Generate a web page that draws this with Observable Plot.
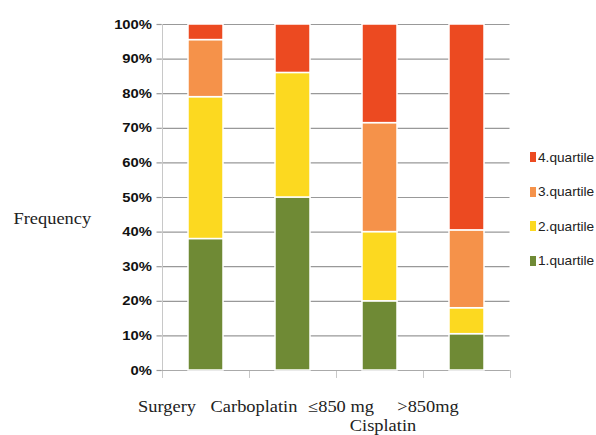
<!DOCTYPE html>
<html>
<head>
<meta charset="utf-8">
<script src="https://cdn.jsdelivr.net/npm/d3@7"></script>
<script src="https://cdn.jsdelivr.net/npm/@observablehq/plot@0.6"></script>
<style>
  html, body { margin: 0; padding: 0; background: #fff; }
  #wrap { position: relative; width: 596px; height: 435px; overflow: hidden; }
  #legend { position: absolute; left: 530px; top: 140px; font-family: "Liberation Sans", Arial, sans-serif; font-size: 13px; color: #222; }
  .row { display: flex; align-items: center; height: 34.5px; white-space: nowrap; }
  .sw { width: 6px; height: 10px; margin-right: 2px; }
  .row span { display: inline-block; transform: scaleX(1.05); transform-origin: left center; }
</style>
</head>
<body>
<div id="wrap"></div>
<script>
const categories = ["Surgery", "Carboplatin", "≤850 mg", ">850mg"];
const quartiles = ["1.quartile", "2.quartile", "3.quartile", "4.quartile"];
const colors = ["#6f8a35", "#fcd920", "#f5924a", "#ec4a21"];
const q1 = [38, 50, 20, 10.5];
const q2 = [41, 36, 20, 7.5];
const q3 = [16.5, 0, 31.5, 22.5];
const q4 = [4.5, 14, 28.5, 59.5];
const yTicks = [0, 10, 20, 30, 40, 50, 60, 70, 80, 90, 100];
const groupLabel = "Cisplatin";
const yLabel = "Frequency";

const series = [q1, q2, q3, q4];
const rows = [];
categories.forEach((c, i) => {
  quartiles.forEach((q, j) => {
    if (series[j][i] > 0) rows.push({category: c, quartile: q, value: series[j][i]});
  });
});

const chart = Plot.plot({
  width: 596,
  height: 435,
  marginLeft: 161.5,
  marginRight: 86.5,
  marginTop: 24,
  marginBottom: 65,
  style: {background: "white"},
  x: {domain: categories, paddingInner: 0.6, paddingOuter: 0.3, label: null},
  y: {domain: [0, 100], label: null},
  color: {domain: quartiles, range: colors},
  marks: [
    Plot.gridY(yTicks, {stroke: "#999", strokeOpacity: 1, strokeWidth: 1.2}),
    Plot.axisY(yTicks, {
      tickSize: 5, tickPadding: 5, stroke: "#999", strokeWidth: 1.2,
      tickFormat: d => d + "%", fontSize: 13, fontWeight: "bold",
      fontFamily: "Liberation Sans, Arial, sans-serif", fill: "#111", label: null
    }),
    Plot.ruleX([categories[0]], {x: d => d, dx: -43.5, y1: -2.3, y2: 100, stroke: "#c8c8c8"}),
    Plot.ruleX(categories, {x: d => d, dx: 43.5, y1: 0, y2: -2.3, stroke: "#c8c8c8"}),
    Plot.ruleY([0], {stroke: "#aaa", strokeWidth: 1.2}),
    Plot.barY(rows, {x: "category", y: "value", fill: "quartile", stroke: "white", strokeWidth: 1.5}),
    Plot.axisX({
      tickSize: 0, tickPadding: 30, dx: -39, fontSize: 16,
      fontFamily: "Liberation Serif, Times New Roman, serif", fill: "#222", label: null
    }),
    Plot.text([categories[2]], {
      x: d => d, text: () => groupLabel, frameAnchor: "bottom", lineAnchor: "top",
      dy: 49, dx: 3, fontSize: 16, fontFamily: "Liberation Serif, Times New Roman, serif", fill: "#222"
    }),
    Plot.text([yLabel], {
      text: d => d, frameAnchor: "left", textAnchor: "start", dx: -148.5, dy: 21,
      fontSize: 16, fontFamily: "Liberation Serif, Times New Roman, serif", fill: "#222",
      ariaLabel: "ylabel"
    })
  ]
});

// Reference text is horizontally stretched: widen each text around its anchor.
chart.querySelectorAll("text").forEach(t => {
  const g = t.closest("g[aria-label]");
  const lab = g ? g.getAttribute("aria-label") : "";
  const s = lab === "y-axis tick label" ? 1.14 : lab === "ylabel" ? 1.17 : 1.15;
  const tr = t.getAttribute("transform") || "";
  t.setAttribute("transform", `${tr} scale(${s},1)`);
});

const wrap = document.getElementById("wrap");
wrap.appendChild(chart);
const legend = document.createElement("div");
legend.id = "legend";
for (let j = quartiles.length - 1; j >= 0; j--) {
  const row = document.createElement("div");
  row.className = "row";
  const sw = document.createElement("div");
  sw.className = "sw";
  sw.style.background = colors[j];
  const t = document.createElement("span");
  t.textContent = quartiles[j];
  row.appendChild(sw);
  row.appendChild(t);
  legend.appendChild(row);
}
wrap.appendChild(legend);
</script>
</body>
</html>
